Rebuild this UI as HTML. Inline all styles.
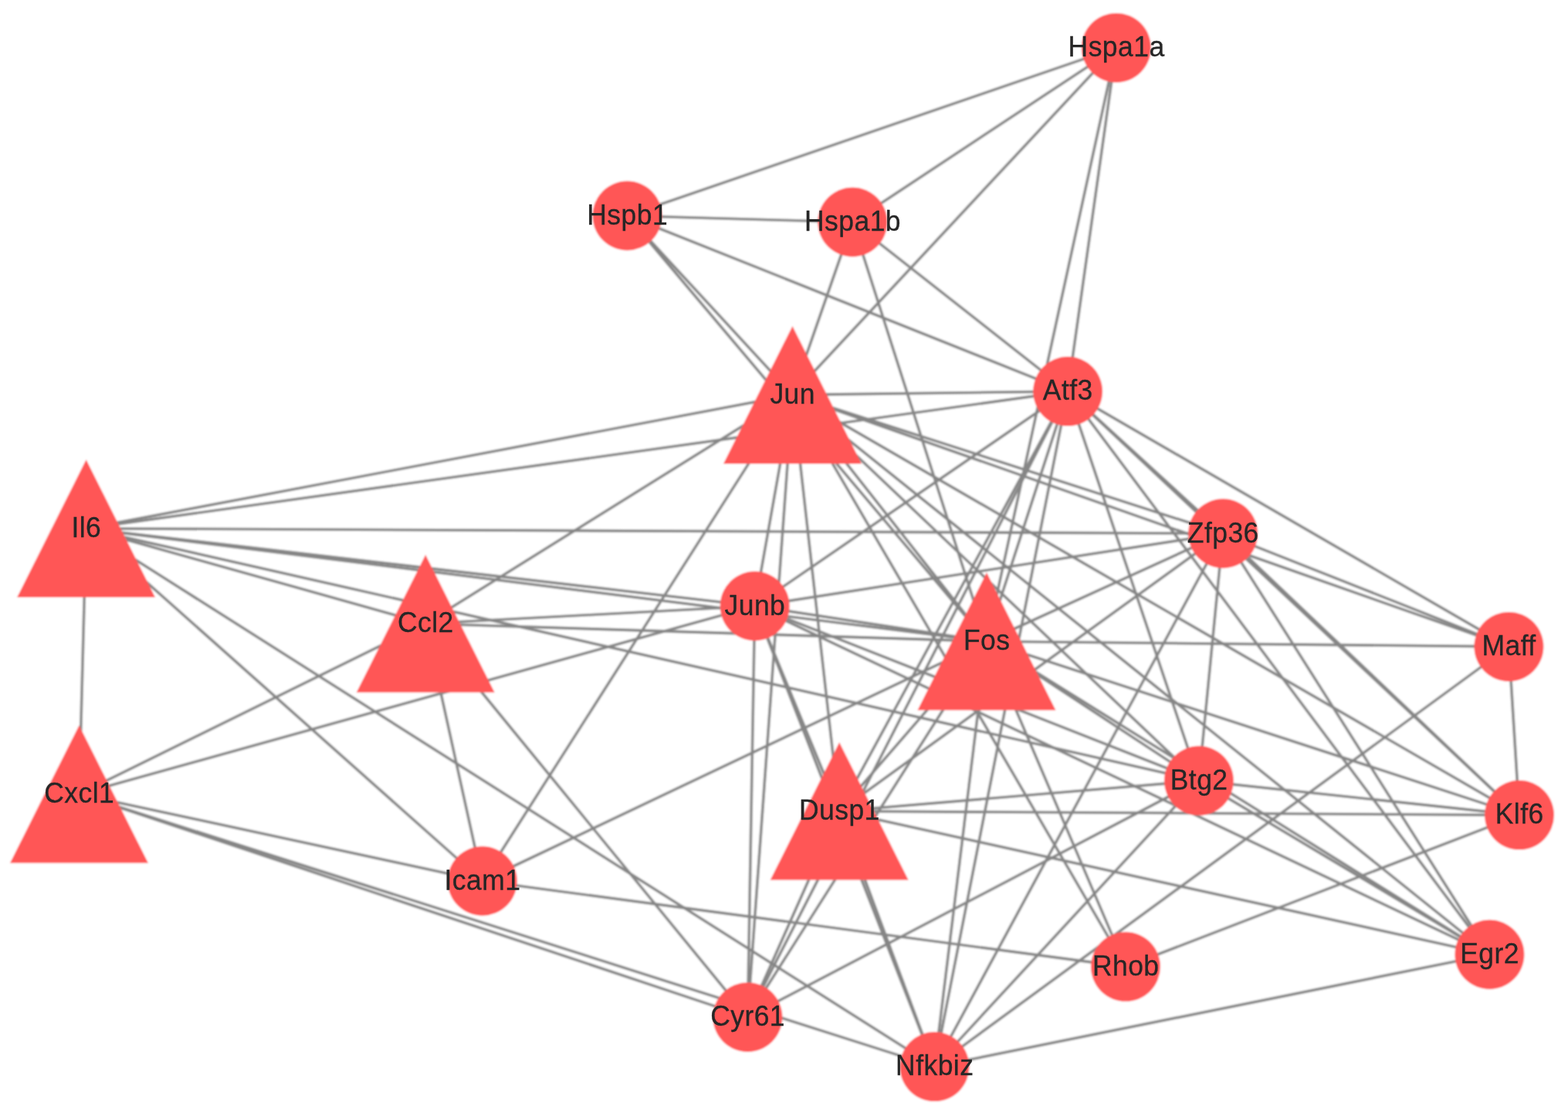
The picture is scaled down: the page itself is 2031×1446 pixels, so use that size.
<!DOCTYPE html>
<html lang="en">
<head>
<meta charset="utf-8">
<title>Protein-protein interaction network</title>
<style>
html,body{margin:0;padding:0;background:#fff;}
body{width:2031px;height:1446px;overflow:hidden;}
svg{display:block;}
.e line{stroke:#868686;stroke-width:3.6;}
.n circle,.n polygon{fill:#FF5757;}
.l text{font-family:"Liberation Sans",Arial,Helvetica,sans-serif;font-size:35.5px;fill:#262626;stroke:#262626;stroke-width:0.3px;letter-spacing:0.45px;text-anchor:middle;}
</style>
</head>
<body>
<svg width="2031" height="1446" viewBox="0 0 2031 1446">
<defs><filter id="soft" x="0" y="0" width="2031" height="1446" filterUnits="userSpaceOnUse"><feGaussianBlur stdDeviation="0.8"/></filter><filter id="softer" x="0" y="0" width="2031" height="1446" filterUnits="userSpaceOnUse"><feGaussianBlur stdDeviation="0.45"/></filter></defs>
<g filter="url(#soft)">
<rect x="0" y="0" width="2031" height="1446" fill="#fff"/>
<g class="e">
<line x1="1445.9" y1="61.9" x2="812.5" y2="279.5"/>
<line x1="1445.9" y1="61.9" x2="1104.3" y2="287.8"/>
<line x1="1445.9" y1="61.9" x2="1026.5" y2="511.6"/>
<line x1="1445.9" y1="61.9" x2="1383.1" y2="507.1"/>
<line x1="1445.9" y1="61.9" x2="1278" y2="831"/>
<line x1="812.5" y1="279.5" x2="1104.3" y2="287.8"/>
<line x1="812.5" y1="279.5" x2="1383.1" y2="507.1"/>
<line x1="812.5" y1="279.5" x2="1026.5" y2="511.6"/>
<line x1="812.5" y1="279.5" x2="1278" y2="831"/>
<line x1="1104.3" y1="287.8" x2="1026.5" y2="511.6"/>
<line x1="1104.3" y1="287.8" x2="1278" y2="831"/>
<line x1="1104.3" y1="287.8" x2="1383.1" y2="507.1"/>
<line x1="111.6" y1="684.7" x2="1026.5" y2="511.6"/>
<line x1="111.6" y1="684.7" x2="1383.1" y2="507.1"/>
<line x1="111.6" y1="684.7" x2="1584.1" y2="691.3"/>
<line x1="111.6" y1="684.7" x2="977.7" y2="785.3"/>
<line x1="111.6" y1="684.7" x2="1278" y2="831"/>
<line x1="111.6" y1="684.7" x2="1552.9" y2="1011.6"/>
<line x1="111.6" y1="684.7" x2="551.2" y2="808"/>
<line x1="111.6" y1="684.7" x2="624.8" y2="1141.5"/>
<line x1="111.6" y1="684.7" x2="1210.5" y2="1382.1"/>
<line x1="111.6" y1="684.7" x2="102.5" y2="1028.9"/>
<line x1="102.5" y1="1028.9" x2="551.2" y2="808"/>
<line x1="102.5" y1="1028.9" x2="977.7" y2="785.3"/>
<line x1="102.5" y1="1028.9" x2="624.8" y2="1141.5"/>
<line x1="102.5" y1="1028.9" x2="968.4" y2="1317.9"/>
<line x1="102.5" y1="1028.9" x2="1210.5" y2="1382.1"/>
<line x1="551.2" y1="808" x2="1026.5" y2="511.6"/>
<line x1="551.2" y1="808" x2="977.7" y2="785.3"/>
<line x1="551.2" y1="808" x2="1278" y2="831"/>
<line x1="551.2" y1="808" x2="624.8" y2="1141.5"/>
<line x1="551.2" y1="808" x2="968.4" y2="1317.9"/>
<line x1="624.8" y1="1141.5" x2="1026.5" y2="511.6"/>
<line x1="624.8" y1="1141.5" x2="1278" y2="831"/>
<line x1="624.8" y1="1141.5" x2="1458" y2="1252.6"/>
<line x1="1954.4" y1="837.9" x2="1383.1" y2="507.1"/>
<line x1="1954.4" y1="837.9" x2="1584.1" y2="691.3"/>
<line x1="1954.4" y1="837.9" x2="1026.5" y2="511.6"/>
<line x1="1954.4" y1="837.9" x2="1278" y2="831"/>
<line x1="1954.4" y1="837.9" x2="1210.5" y2="1382.1"/>
<line x1="1954.4" y1="837.9" x2="1968" y2="1056.1"/>
<line x1="1968" y1="1056.1" x2="1584.1" y2="691.3"/>
<line x1="1968" y1="1056.1" x2="1383.1" y2="507.1"/>
<line x1="1968" y1="1056.1" x2="1026.5" y2="511.6"/>
<line x1="1968" y1="1056.1" x2="1278" y2="831"/>
<line x1="1968" y1="1056.1" x2="1552.9" y2="1011.6"/>
<line x1="1968" y1="1056.1" x2="1087.2" y2="1051"/>
<line x1="1968" y1="1056.1" x2="1458" y2="1252.6"/>
<line x1="1929.4" y1="1236.7" x2="1383.1" y2="507.1"/>
<line x1="1929.4" y1="1236.7" x2="1584.1" y2="691.3"/>
<line x1="1929.4" y1="1236.7" x2="1026.5" y2="511.6"/>
<line x1="1929.4" y1="1236.7" x2="1278" y2="831"/>
<line x1="1929.4" y1="1236.7" x2="1552.9" y2="1011.6"/>
<line x1="1929.4" y1="1236.7" x2="977.7" y2="785.3"/>
<line x1="1929.4" y1="1236.7" x2="1087.2" y2="1051"/>
<line x1="1929.4" y1="1236.7" x2="1210.5" y2="1382.1"/>
<line x1="1458" y1="1252.6" x2="1278" y2="831"/>
<line x1="1458" y1="1252.6" x2="1026.5" y2="511.6"/>
<line x1="1210.5" y1="1382.1" x2="1087.2" y2="1051"/>
<line x1="1210.5" y1="1382.1" x2="977.7" y2="785.3"/>
<line x1="1210.5" y1="1382.1" x2="1278" y2="831"/>
<line x1="1210.5" y1="1382.1" x2="1383.1" y2="507.1"/>
<line x1="1210.5" y1="1382.1" x2="1584.1" y2="691.3"/>
<line x1="1210.5" y1="1382.1" x2="1552.9" y2="1011.6"/>
<line x1="977.7" y1="785.3" x2="1026.5" y2="511.6"/>
<line x1="977.7" y1="785.3" x2="1383.1" y2="507.1"/>
<line x1="977.7" y1="785.3" x2="1584.1" y2="691.3"/>
<line x1="977.7" y1="785.3" x2="1278" y2="831"/>
<line x1="977.7" y1="785.3" x2="1552.9" y2="1011.6"/>
<line x1="977.7" y1="785.3" x2="968.4" y2="1317.9"/>
<line x1="977.7" y1="785.3" x2="1087.2" y2="1051"/>
<line x1="1584.1" y1="691.3" x2="1383.1" y2="507.1"/>
<line x1="1584.1" y1="691.3" x2="1026.5" y2="511.6"/>
<line x1="1584.1" y1="691.3" x2="1278" y2="831"/>
<line x1="1584.1" y1="691.3" x2="1087.2" y2="1051"/>
<line x1="1584.1" y1="691.3" x2="1552.9" y2="1011.6"/>
<line x1="1383.1" y1="507.1" x2="1026.5" y2="511.6"/>
<line x1="1383.1" y1="507.1" x2="1087.2" y2="1051"/>
<line x1="1383.1" y1="507.1" x2="968.4" y2="1317.9"/>
<line x1="1383.1" y1="507.1" x2="1278" y2="831"/>
<line x1="1383.1" y1="507.1" x2="1552.9" y2="1011.6"/>
<line x1="1026.5" y1="511.6" x2="968.4" y2="1317.9"/>
<line x1="1026.5" y1="511.6" x2="1087.2" y2="1051"/>
<line x1="1026.5" y1="511.6" x2="1278" y2="831"/>
<line x1="1026.5" y1="511.6" x2="1552.9" y2="1011.6"/>
<line x1="1552.9" y1="1011.6" x2="1278" y2="831"/>
<line x1="1552.9" y1="1011.6" x2="1087.2" y2="1051"/>
<line x1="1552.9" y1="1011.6" x2="968.4" y2="1317.9"/>
<line x1="968.4" y1="1317.9" x2="1087.2" y2="1051"/>
<line x1="968.4" y1="1317.9" x2="1278" y2="831"/>
<line x1="1278" y1="831" x2="1087.2" y2="1051"/>
</g>
<g class="n">
<circle cx="1445.9" cy="61.9" r="45"/>
<circle cx="812.5" cy="279.5" r="45"/>
<circle cx="1104.3" cy="287.8" r="45"/>
<polygon points="1026.5,422.4 1116,600.9 937,600.9"/>
<circle cx="1383.1" cy="507.1" r="45"/>
<polygon points="111.6,595.5 201.1,774 22.1,774"/>
<circle cx="1584.1" cy="691.3" r="45"/>
<polygon points="551.2,718.8 640.7,897.2 461.7,897.2"/>
<circle cx="977.7" cy="785.3" r="45"/>
<polygon points="1278,741.8 1367.5,920.2 1188.5,920.2"/>
<circle cx="1954.4" cy="837.9" r="45"/>
<polygon points="102.5,939.7 192,1118.2 13,1118.2"/>
<polygon points="1087.2,961.8 1176.7,1140.2 997.7,1140.2"/>
<circle cx="1552.9" cy="1011.6" r="45"/>
<circle cx="1968" cy="1056.1" r="45"/>
<circle cx="624.8" cy="1141.5" r="45"/>
<circle cx="1458" cy="1252.6" r="45"/>
<circle cx="1929.4" cy="1236.7" r="45"/>
<circle cx="968.4" cy="1317.9" r="45"/>
<circle cx="1210.5" cy="1382.1" r="45"/>
</g>
</g>
<g class="l" filter="url(#softer)">
<text transform="translate(1446.1 73.1) scale(1 1.03)">Hspa1a</text>
<text transform="translate(812.7 290.7) scale(1 1.03)">Hspb1</text>
<text transform="translate(1104.5 299) scale(1 1.03)">Hspa1b</text>
<text transform="translate(1026.7 522.8) scale(1 1.03)">Jun</text>
<text transform="translate(1383.3 518.3) scale(1 1.03)">Atf3</text>
<text transform="translate(111.8 695.9) scale(1 1.03)">Il6</text>
<text transform="translate(1584.3 702.5) scale(1 1.03)">Zfp36</text>
<text transform="translate(551.4 819.2) scale(1 1.03)">Ccl2</text>
<text transform="translate(977.9 796.5) scale(1 1.03)">Junb</text>
<text transform="translate(1278.2 842.2) scale(1 1.03)">Fos</text>
<text transform="translate(1954.6 849.1) scale(1 1.03)">Maff</text>
<text transform="translate(102.7 1040.1) scale(1 1.03)">Cxcl1</text>
<text transform="translate(1087.4 1062.2) scale(1 1.03)">Dusp1</text>
<text transform="translate(1553.1 1022.8) scale(1 1.03)">Btg2</text>
<text transform="translate(1968.2 1067.3) scale(1 1.03)">Klf6</text>
<text transform="translate(625 1152.7) scale(1 1.03)">Icam1</text>
<text transform="translate(1458.2 1263.8) scale(1 1.03)">Rhob</text>
<text transform="translate(1929.6 1247.9) scale(1 1.03)">Egr2</text>
<text transform="translate(968.6 1329.1) scale(1 1.03)">Cyr61</text>
<text transform="translate(1210.7 1393.3) scale(1 1.03)">Nfkbiz</text>
</g>
</svg>
</body>
</html>
